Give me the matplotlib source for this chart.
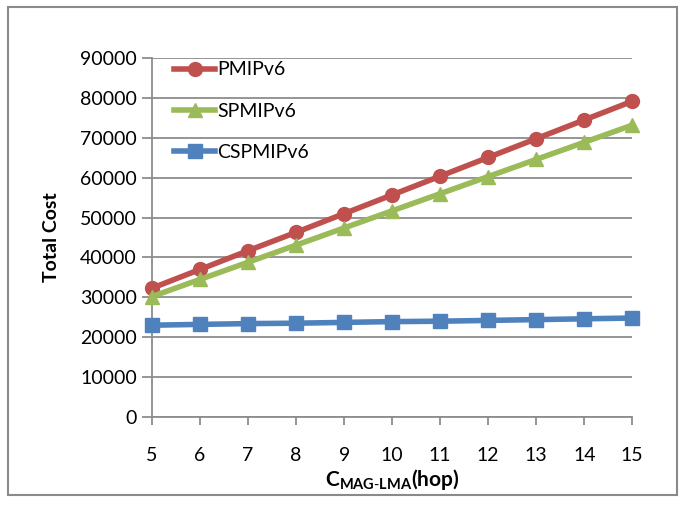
import matplotlib
matplotlib.use("Agg")
import matplotlib.pyplot as plt
from matplotlib.patches import Rectangle

hops = [5, 6, 7, 8, 9, 10, 11, 12, 13, 14, 15]
pmip = [32300, 37000, 41700, 46300, 51000, 55700, 60400, 65100, 69800, 74500, 79200]
spmip = [30200, 34500, 38800, 43100, 47400, 51700, 56000, 60300, 64600, 68900, 73200]
cspmip = [23000, 23200, 23400, 23500, 23700, 23900, 24000, 24200, 24400, 24600, 24800]
y_ticks = list(range(0, 90001, 10000))

plt.rcParams['font.family'] = ['Lato', 'DejaVu Sans']
plt.rcParams['mathtext.fontset'] = 'custom'
plt.rcParams['mathtext.rm'] = 'Lato'
plt.rcParams['mathtext.bf'] = 'Lato:bold'

fig = plt.figure(figsize=(6.85, 5.29), dpi=100)
ax = fig.add_axes([0.222, 0.212, 0.701, 0.678])

# outer frame like the spreadsheet chart
fig.patches.append(Rectangle((0.012, 0.064), 0.976, 0.922, transform=fig.transFigure,
                             fill=False, edgecolor='#8a8a8a', linewidth=1.5))

ax.plot(hops, pmip, color='#c0504d', lw=4, marker='o', ms=10, label='PMIPv6', clip_on=False, zorder=5)
ax.plot(hops, spmip, color='#9bbb59', lw=4, marker='^', ms=10, label='SPMIPv6', clip_on=False, zorder=5)
ax.plot(hops, cspmip, color='#4f81bd', lw=4, marker='s', ms=10, label='CSPMIPv6', clip_on=False, zorder=5)

ax.set_xlim(5, 15)
ax.set_ylim(0, 90000)
ax.set_xticks(hops)
ax.set_yticks(y_ticks)
ax.grid(axis='y', color='#8c8c8c', lw=1.3)
ax.set_axisbelow(True)
for s in ['top', 'right']:
    ax.spines[s].set_visible(False)
for s in ['left', 'bottom']:
    ax.spines[s].set_color('#8c8c8c')
    ax.spines[s].set_linewidth(1.3)
ax.tick_params(axis='y', direction='out', length=7, color='#8c8c8c', width=1.3, labelsize=14, pad=4)
ax.tick_params(axis='x', direction='out', length=6, color='#8c8c8c', width=1.3, labelsize=14, pad=16)

ax.set_ylabel('Total Cost', fontsize=14, fontweight='bold', labelpad=14)
ax.set_xlabel(r'$\mathbf{C_{MAG\text{-}LMA}}$(hop)', fontsize=15, fontweight='bold', labelpad=2)

ax.legend(loc='upper left', bbox_to_anchor=(0.01, 1.04), frameon=False, fontsize=14,
          handlelength=2.1, handletextpad=0.1, labelspacing=1.25)

fig.savefig('out.png', dpi=100)
